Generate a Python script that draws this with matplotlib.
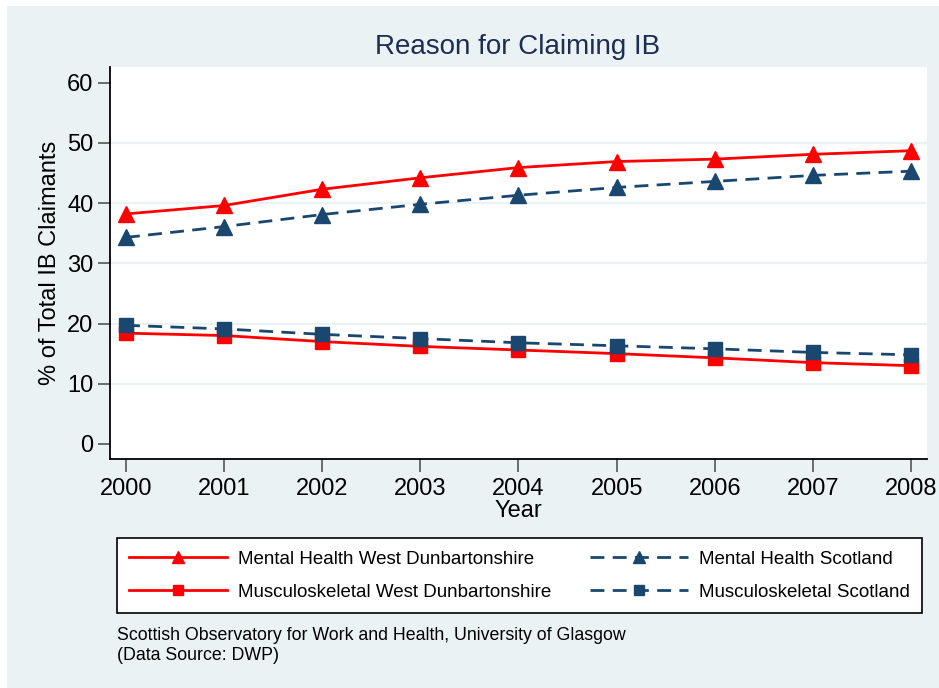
import matplotlib.pyplot as plt
from matplotlib.patches import Rectangle

# Data
years = [2000, 2001, 2002, 2003, 2004, 2005, 2006, 2007, 2008]
mental_wd = [38.2, 39.6, 42.3, 44.2, 45.9, 46.9, 47.3, 48.1, 48.7]
mental_scot = [34.3, 36.1, 38.1, 39.8, 41.3, 42.6, 43.6, 44.6, 45.3]
musc_wd = [18.4, 18.0, 17.0, 16.2, 15.6, 15.0, 14.3, 13.5, 13.0]
musc_scot = [19.7, 19.1, 18.2, 17.5, 16.8, 16.3, 15.8, 15.2, 14.8]
yticks = [0, 10, 20, 30, 40, 50, 60]

red = "#FF0000"
navy = "#1A476F"
bg = "#EAF2F3"

plt.rcParams['font.family'] = ['Liberation Sans', 'DejaVu Sans']

fig = plt.figure(figsize=(9.39, 6.88), dpi=100, facecolor="white")
# light Stata-style background panel, kept behind the axes
fig.patches.append(Rectangle((7 / 939, 0), 1, 1 - 6 / 688, transform=fig.transFigure,
                             facecolor=bg, edgecolor="none", zorder=-10))

ax = fig.add_axes([110 / 939, 1 - 459 / 688, 817 / 939, 392 / 688])
ax.set_facecolor("white")

ax.plot(years, mental_wd, color=red, lw=2, marker="^", ms=11, label="Mental Health West Dunbartonshire", zorder=3)
ax.plot(years, mental_scot, color=navy, lw=2, ls=(0, (5, 3)), marker="^", ms=11, label="Mental Health Scotland", zorder=3)
ax.plot(years, musc_wd, color=red, lw=2, marker="s", ms=9.5, label="Musculoskeletal West Dunbartonshire", zorder=3)
ax.plot(years, musc_scot, color=navy, lw=2, ls=(0, (5, 3)), marker="s", ms=9.5, label="Musculoskeletal Scotland", zorder=3)

# gridlines only at interior ticks
for y in yticks[1:-1]:
    ax.axhline(y, color=bg, lw=1.6, zorder=1)

ax.set_xlim(1999.837, 2008.163)
ax.set_ylim(-2.5, 62.6)
ax.set_xticks(years)
ax.set_yticks(yticks)
ax.tick_params(axis="both", labelsize=17, color="#555555", width=1.2)
ax.tick_params(axis="x", length=9, pad=5)
ax.tick_params(axis="y", length=9, pad=3)
for s in ["top", "right"]:
    ax.spines[s].set_visible(False)
for s in ["left", "bottom"]:
    ax.spines[s].set_color("black")
    ax.spines[s].set_linewidth(1.3)

ax.set_xlabel("Year", fontsize=17, labelpad=0)
ax.set_ylabel("% of Total IB Claimants", fontsize=17, labelpad=4)
fig.text(518 / 939, 1 - 47 / 688, "Reason for Claiming IB", fontsize=20, color="#1E2D53",
         ha="center", va="center")

handles, labels = ax.get_legend_handles_labels()
order = [0, 2, 1, 3]
leg = fig.legend([handles[i] for i in order], [labels[i] for i in order],
                 ncol=2, loc="center", bbox_to_anchor=(519.5 / 939, 1 - 575.5 / 688),
                 fontsize=13.5, frameon=True, fancybox=False, edgecolor="black",
                 facecolor="white", framealpha=1,
                 handlelength=5.2, handletextpad=0.6, columnspacing=2.1, labelspacing=0.85,
                 borderpad=0.65, borderaxespad=0, markerscale=0.75)
leg.get_frame().set_linewidth(1.2)

fig.text(117 / 939, 1 - 636 / 688, "Scottish Observatory for Work and Health, University of Glasgow",
         fontsize=12.8, va="center", ha="left")
fig.text(117 / 939, 1 - 655 / 688, "(Data Source: DWP)", fontsize=12.8, va="center", ha="left")

plt.savefig("out.png", dpi=100, facecolor=fig.get_facecolor())
